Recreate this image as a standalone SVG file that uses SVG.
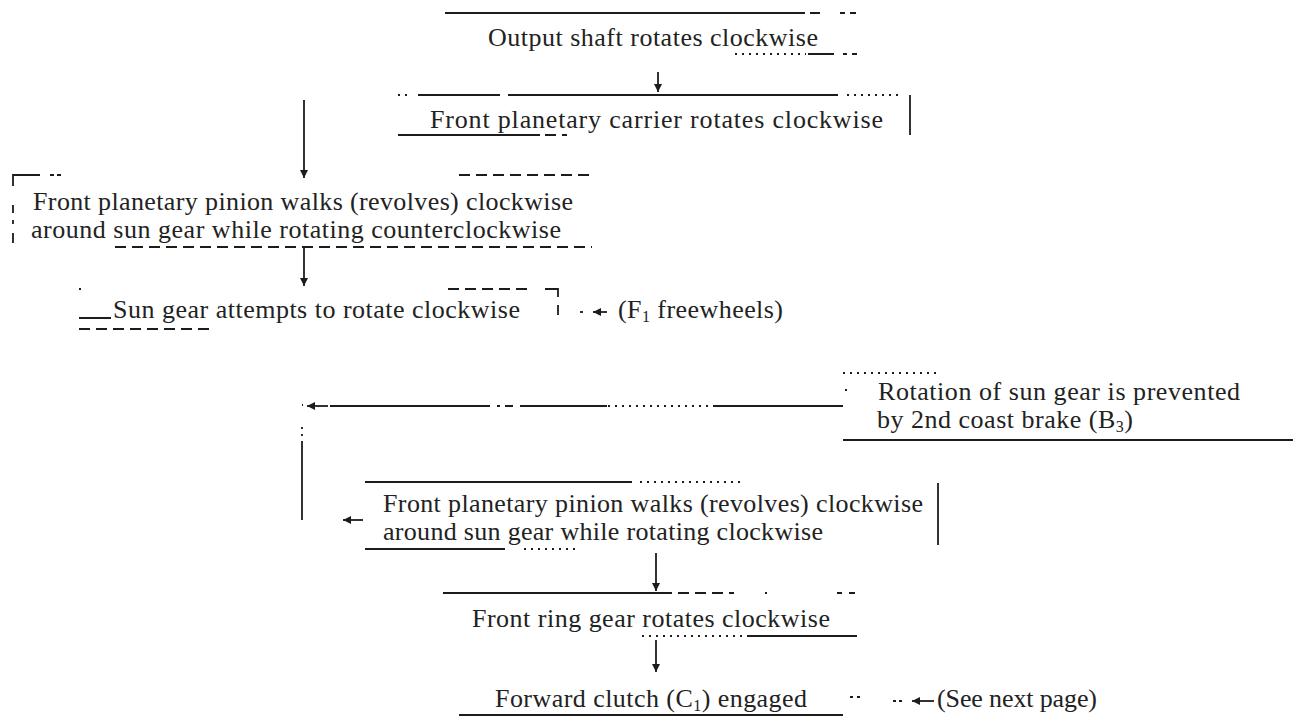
<svg xmlns="http://www.w3.org/2000/svg" width="1293" height="717" viewBox="0 0 1293 717">
  <style>
    .t{font-family:"Liberation Serif","Times New Roman",serif;font-size:26px;fill:#222222}
    .sub{font-size:16px}
    .ln{stroke:#1c1c1c;stroke-width:1.8;fill:none}
    .ds{stroke-dasharray:11 6}
    .dt{stroke-dasharray:2 5}
  </style>
  <defs>
    <marker id="ah" viewBox="0 0 10 10" refX="10" refY="5" markerWidth="10" markerHeight="8" markerUnits="userSpaceOnUse" orient="auto">
      <path d="M0,0 L10,5 L0,10 Z" fill="#1c1c1c"/>
    </marker>
  </defs>
  <rect width="1293" height="717" fill="#ffffff"/>

  <!-- Output shaft -->
  <g id="output-shaft">
    <path class="ln" d="M445 13H805 M810 13h10 M840 13h5 M850 13h6"/>
    <path class="ln dt" d="M735 54H806"/>
    <path class="ln" d="M808 54H834 M843 54h4 M852 54h5"/>
    <text class="t" x="488" y="46" textLength="330" lengthAdjust="spacing">Output shaft rotates clockwise</text>
  </g>

  <!-- Front planetary carrier -->
  <g id="carrier">
    <path class="ln dt" d="M398 95h14 M847 95H903"/>
    <path class="ln" d="M418 95H500 M508 95H838 M910 95V135 M398 135H540"/>
    <path class="ln ds" d="M545 135H567"/>
    <text class="t" x="430" y="128" textLength="453" lengthAdjust="spacing">Front planetary carrier rotates clockwise</text>
  </g>

  <!-- Pinion, counterclockwise rotation -->
  <g id="pinion-ccw">
    <path class="ln" d="M13 186V175H40 M50 175h4 M57 175h4 M13 205v8 M13 220v4 M13 233v10"/>
    <path class="ln ds" d="M459 175H589 M115 247H592"/>
    <text class="t" x="33" y="210" textLength="540" lengthAdjust="spacing">Front planetary pinion walks (revolves) clockwise</text>
    <text class="t" x="31" y="238" textLength="530" lengthAdjust="spacing">around sun gear while rotating counterclockwise</text>
  </g>

  <!-- Sun gear -->
  <g id="sun-gear">
    <path class="ln" d="M79 289h2 M545 289H558V297 M558 305V315 M79 318H111"/>
    <path class="ln ds" d="M448 289H527 M79 329H209"/>
    <text class="t" x="113" y="318" textLength="407" lengthAdjust="spacing">Sun gear attempts to rotate clockwise</text>
  </g>

  <g id="freewheel-note">
    <text class="t" x="618" y="318" textLength="165" lengthAdjust="spacing">(F<tspan class="sub" dy="4">1</tspan><tspan dy="-4"> freewheels)</tspan></text>
  </g>

  <!-- 2nd coast brake -->
  <g id="brake-b3">
    <path class="ln dt" d="M843 373H937"/>
    <path class="ln" d="M845 390h2 M843 440H1293"/>
    <text class="t" x="878" y="400" textLength="362" lengthAdjust="spacing">Rotation of sun gear is prevented</text>
    <text class="t" x="877" y="428" textLength="256" lengthAdjust="spacing">by 2nd coast brake (B<tspan class="sub" dy="4">3</tspan><tspan dy="-4">)</tspan></text>
  </g>

  <!-- Pinion, clockwise rotation -->
  <g id="pinion-cw">
    <path class="ln" d="M365 482H632 M938 483V545 M365 549H505"/>
    <path class="ln dt" d="M640 482H744 M524 549H577"/>
    <text class="t" x="383" y="512" textLength="540" lengthAdjust="spacing">Front planetary pinion walks (revolves) clockwise</text>
    <text class="t" x="383" y="540" textLength="440" lengthAdjust="spacing">around sun gear while rotating clockwise</text>
  </g>

  <!-- Front ring gear -->
  <g id="ring-gear">
    <path class="ln" d="M443 593H661 M765 593h2 M837 593h5 M849 593h6 M747 636H857"/>
    <path class="ln ds" d="M661 593H734"/>
    <path class="ln dt" d="M642 636H742"/>
    <text class="t" x="472" y="627" textLength="358" lengthAdjust="spacing">Front ring gear rotates clockwise</text>
  </g>

  <!-- Forward clutch -->
  <g id="forward-clutch">
    <path class="ln" d="M459 715H843"/>
    <text class="t" x="495" y="707" textLength="312" lengthAdjust="spacing">Forward clutch (C<tspan class="sub" dy="4">1</tspan><tspan dy="-4">) engaged</tspan></text>
  </g>

  <g id="next-page-note">
    <text class="t" x="937" y="707" textLength="160" lengthAdjust="spacing">(See next page)</text>
  </g>

  <!-- Connectors -->
  <g id="connectors">
    <path class="ln" d="M658 72V92" marker-end="url(#ah)"/>
    <path class="ln" d="M304 100V178" marker-end="url(#ah)"/>
    <path class="ln" d="M304 247V286" marker-end="url(#ah)"/>
    <path class="ln" d="M580 312h3"/>
    <path class="ln" d="M607 312H593" marker-end="url(#ah)"/>
    <path class="ln" d="M843 406H715"/>
    <path class="ln dt" d="M715 406H607"/>
    <path class="ln" d="M607 406H520 M513 406h-8 M500 406h-3 M490 406H330"/>
    <path class="ln" d="M328 406H307" marker-end="url(#ah)"/>
    <path class="ln" d="M302 405h1"/>
    <path class="ln dt" d="M302 427V443"/>
    <path class="ln" d="M302 443V520"/>
    <path class="ln" d="M363 520H343" marker-end="url(#ah)"/>
    <path class="ln" d="M656 553V591" marker-end="url(#ah)"/>
    <path class="ln" d="M656 640V672" marker-end="url(#ah)"/>
    <path class="ln" d="M850 697h3 M857 697h3 M893 701h3 M899 701h3"/>
    <path class="ln" d="M934 701H912" marker-end="url(#ah)"/>
  </g>
</svg>
